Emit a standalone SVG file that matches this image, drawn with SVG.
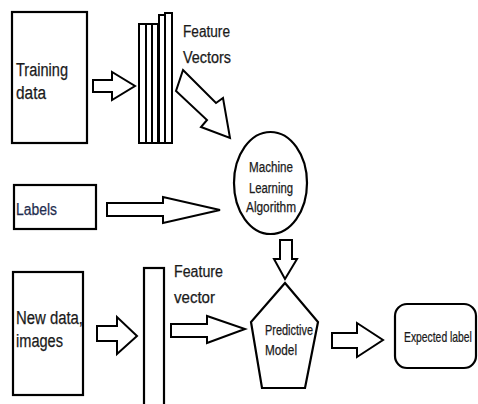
<svg xmlns="http://www.w3.org/2000/svg" width="478" height="404" viewBox="0 0 478 404">
<style>
.box{fill:#fff;stroke:#000;stroke-width:2.2}
.plate{fill:#fff;stroke:#000;stroke-width:2}
.arrow{fill:#fff;stroke:#000;stroke-width:2;stroke-linejoin:miter}
.t{font-family:"Liberation Sans",Arial,sans-serif;fill:#1a1a1a;stroke:#1a1a1a;stroke-width:0.25}
.big{font-size:18px}
.mid{font-size:16px}
.sm{font-size:14px}
</style>
<rect width="478" height="404" fill="#fff"/>
<g id="training-data">
<rect class="box" x="12" y="12" width="75" height="131"/>
<text class="t big" x="16" y="76" textLength="52" lengthAdjust="spacingAndGlyphs">Training</text>
<text class="t big" x="16" y="99" textLength="30" lengthAdjust="spacingAndGlyphs">data</text>
</g>
<g id="feature-vectors">
<rect class="plate" x="139" y="24" width="7" height="119"/>
<rect class="plate" x="146" y="24" width="6" height="119"/>
<rect class="plate" x="152" y="24" width="6" height="119"/>
<rect class="plate" x="159" y="15" width="6" height="128" stroke-width="2.6"/>
<rect class="plate" x="165" y="13" width="7" height="130"/>
<text class="t mid" x="183" y="37" textLength="47" lengthAdjust="spacingAndGlyphs">Feature</text>
<text class="t mid" x="183" y="63" textLength="48" lengthAdjust="spacingAndGlyphs">Vectors</text>
</g>
<g id="labels">
<rect class="box" x="14" y="185" width="82" height="44"/>
<text class="t mid" x="16" y="215" textLength="41" lengthAdjust="spacingAndGlyphs" style="fill:#1f2d4f;stroke:#1f2d4f">Labels</text>
</g>
<g id="ml-algorithm">
<ellipse class="box" cx="270.5" cy="183" rx="36.5" ry="51"/>
<text class="t sm" x="271" y="172" text-anchor="middle" textLength="44" lengthAdjust="spacingAndGlyphs">Machine</text>
<text class="t sm" x="271" y="193" text-anchor="middle" textLength="44" lengthAdjust="spacingAndGlyphs">Learning</text>
<text class="t sm" x="271" y="212" text-anchor="middle" textLength="50" lengthAdjust="spacingAndGlyphs">Algorithm</text>
</g>
<g id="new-data">
<rect class="box" x="13" y="272" width="70" height="123"/>
<text class="t big" x="16" y="324" textLength="67" lengthAdjust="spacingAndGlyphs">New data,</text>
<text class="t big" x="16" y="347" textLength="47" lengthAdjust="spacingAndGlyphs">images</text>
</g>
<g id="feature-vector">
<rect class="box" x="144" y="268" width="20" height="145"/>
<text class="t mid" x="174" y="277" textLength="49" lengthAdjust="spacingAndGlyphs">Feature</text>
<text class="t mid" x="174" y="303" textLength="41" lengthAdjust="spacingAndGlyphs">vector</text>
</g>
<g id="predictive-model">
<polygon class="box" points="285,283 318,322 305,388 262,388 251,322"/>
<text class="t sm" x="265" y="335" textLength="48" lengthAdjust="spacingAndGlyphs">Predictive</text>
<text class="t sm" x="265" y="355" textLength="32" lengthAdjust="spacingAndGlyphs">Model</text>
</g>
<g id="expected-label">
<rect class="box" x="395" y="304" width="81" height="64" rx="12" ry="12"/>
<text class="t sm" transform="translate(404,342) scale(0.74,1)">Expected label</text>
</g>
<g id="connectors">
<polygon class="arrow" points="93,80 112,80 112,72 135,86 112,100 112,92 93,92"/>
<polygon class="arrow" points="183,70 216,103 223,98 230,138 201,127 207,120 176,91"/>
<polygon class="arrow" points="107,203 163,203 163,197 220,210 163,223 163,216 107,216"/>
<polygon class="arrow" points="280,240 292,240 292,259 297,259 285,279 274,259 280,259"/>
<polygon class="arrow" points="97,326 117,326 117,317 137,336 117,354 117,341 97,341"/>
<polygon class="arrow" points="171,324 207,324 207,316 245,329 207,343 207,337 171,337"/>
<polygon class="arrow" points="332,333 357,333 357,323 383,340 357,357 357,348 332,348"/>
</g>
</svg>
